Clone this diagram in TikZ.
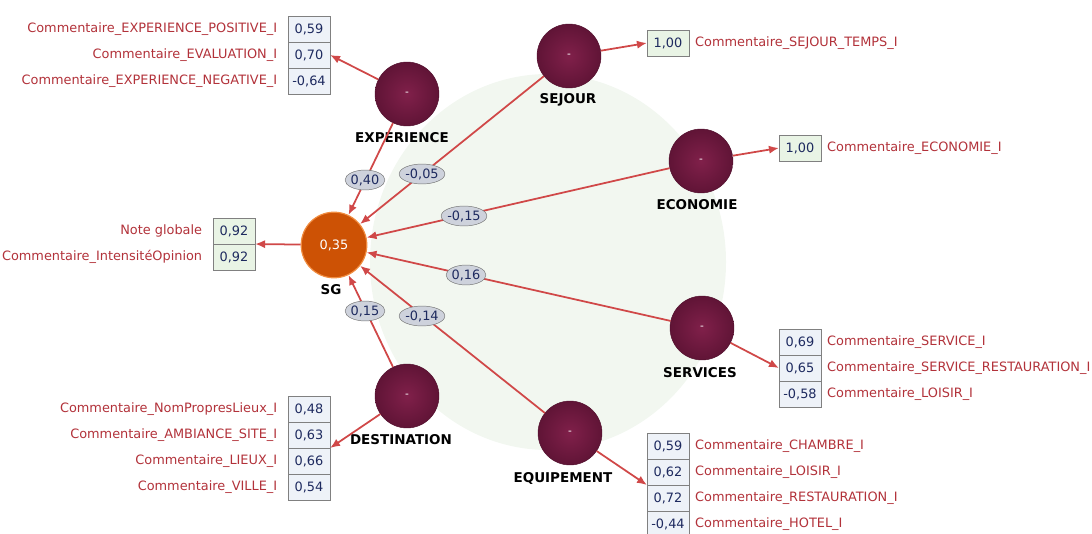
\documentclass[tikz,border=0pt]{standalone}
\usepackage{fontspec}
\setmainfont{DejaVu Sans}
\usetikzlibrary{positioning,arrows.meta,shapes.geometric}

\definecolor{pathred}{RGB}{208,72,72}
\definecolor{labred}{RGB}{178,50,58}
\definecolor{valblue}{RGB}{30,42,95}
\definecolor{lvin}{RGB}{128,32,74}
\definecolor{lvout}{RGB}{96,20,54}
\definecolor{sgorange}{RGB}{205,82,5}
\definecolor{sgrim}{RGB}{240,140,64}
\definecolor{boxblue}{RGB}{238,242,248}
\definecolor{boxgreen}{RGB}{233,244,229}
\definecolor{coefgray}{RGB}{206,210,220}
\definecolor{blobgreen}{RGB}{242,247,240}

\begin{document}
\begin{tikzpicture}[x=0.03cm,y=-0.03cm,>={Latex[length=8.5pt,width=7pt]},
  lv/.style={circle,minimum size=54.6pt,inner sep=0pt,inner color=lvin,outer color=lvout,
    draw=lvout!85!black,thin,text=white,font=\small},
  sgnode/.style={circle,minimum size=56pt,inner sep=0pt,fill=sgorange,draw=sgrim,
    line width=1pt,text=white,font=\fontsize{11}{13}\selectfont},
  lvname/.style={font=\bfseries\fontsize{11.5}{13}\selectfont},
  ind/.style={draw=gray,fill=boxblue,minimum width=36pt,minimum height=22.2pt,
    inner sep=0pt,outer sep=0pt,text=valblue,font=\fontsize{11}{13}\selectfont},
  indg/.style={ind,fill=boxgreen},
  ilab/.style={text=labred,inner sep=1pt,font=\fontsize{11}{13}\selectfont},
  regarrow/.style={->,draw=pathred,line width=1.5pt},
  pcoef/.style={ellipse,draw=gray!90!black,fill=coefgray,text=valblue,inner xsep=-10pt,
    inner ysep=0pt,minimum width=34pt,minimum height=17pt,font=\fontsize{11}{13}\selectfont},
  negcoef/.style={pcoef,minimum width=39pt}]
  \useasboundingbox (0,0) rectangle (1092,534);

  % pale background blob
  \fill[blobgreen] (548,262) ellipse [x radius=5.34cm,y radius=5.64cm];

  % latent variables
  \node[sgnode] (sg) at (334,245) {0,35};
  \node[lvname] (sgname) at (331,290) {SG};
  \node[lv] (exp) at (407,94) {-};
  \node[lvname] (expname) at (402,138) {EXPERIENCE};
  \node[lv] (sej) at (569,56) {-};
  \node[lvname] (sejname) at (568,100) {SEJOUR};
  \node[lv] (eco) at (701,161) {-};
  \node[lvname] (econame) at (697,205) {ECONOMIE};
  \node[lv] (srv) at (702,328) {-};
  \node[lvname] (srvname) at (700,373) {SERVICES};
  \node[lv] (dst) at (407,396) {-};
  \node[lvname] (dstname) at (401,440) {DESTINATION};
  \node[lv] (eqp) at (570,433) {-};
  \node[lvname] (eqpname) at (563,478) {EQUIPEMENT};

  % indicators of SG
  \node[indg] (sg1) at (234,231) {0,92};
  \node[indg,below=0pt of sg1] (sg2) {0,92};
  \node[ilab,left=8pt of sg1] (lsg1) {Note globale};
  \node[ilab,left=8pt of sg2] (lsg2) {Commentaire\_IntensitéOpinion};

  % indicators of EXPERIENCE
  \node[ind] (exp1) at (309,29) {0,59};
  \node[ind,below=0pt of exp1] (exp2) {0,70};
  \node[ind,below=0pt of exp2] (exp3) {-0,64};
  \node[ilab,left=8pt of exp1] (lexp1) {Commentaire\_EXPERIENCE\_POSITIVE\_I};
  \node[ilab,left=8pt of exp2] (lexp2) {Commentaire\_EVALUATION\_I};
  \node[ilab,left=8pt of exp3] (lexp3) {Commentaire\_EXPERIENCE\_NEGATIVE\_I};

  % indicators of DESTINATION
  \node[ind] (dst1) at (309,409) {0,48};
  \node[ind,below=0pt of dst1] (dst2) {0,63};
  \node[ind,below=0pt of dst2] (dst3) {0,66};
  \node[ind,below=0pt of dst3] (dst4) {0,54};
  \node[ilab,left=8pt of dst1] (ldst1) {Commentaire\_NomPropresLieux\_I};
  \node[ilab,left=8pt of dst2] (ldst2) {Commentaire\_AMBIANCE\_SITE\_I};
  \node[ilab,left=8pt of dst3] (ldst3) {Commentaire\_LIEUX\_I};
  \node[ilab,left=8pt of dst4] (ldst4) {Commentaire\_VILLE\_I};

  % indicators of SEJOUR and ECONOMIE
  \node[indg] (sej1) at (668,43) {1,00};
  \node[ilab,right=4pt of sej1] (lsej1) {Commentaire\_SEJOUR\_TEMPS\_I};
  \node[indg] (eco1) at (800,148) {1,00};
  \node[ilab,right=4pt of eco1] (leco1) {Commentaire\_ECONOMIE\_I};

  % indicators of SERVICES
  \node[ind] (srv1) at (800,342) {0,69};
  \node[ind,below=0pt of srv1] (srv2) {0,65};
  \node[ind,below=0pt of srv2] (srv3) {-0,58};
  \node[ilab,right=4pt of srv1] (lsrv1) {Commentaire\_SERVICE\_I};
  \node[ilab,right=4pt of srv2] (lsrv2) {Commentaire\_SERVICE\_RESTAURATION\_I};
  \node[ilab,right=4pt of srv3] (lsrv3) {Commentaire\_LOISIR\_I};

  % indicators of EQUIPEMENT
  \node[ind] (eqp1) at (668,446) {0,59};
  \node[ind,below=0pt of eqp1] (eqp2) {0,62};
  \node[ind,below=0pt of eqp2] (eqp3) {0,72};
  \node[ind,below=0pt of eqp3] (eqp4) {-0,44};
  \node[ilab,right=4pt of eqp1] (leqp1) {Commentaire\_CHAMBRE\_I};
  \node[ilab,right=4pt of eqp2] (leqp2) {Commentaire\_LOISIR\_I};
  \node[ilab,right=4pt of eqp3] (leqp3) {Commentaire\_RESTAURATION\_I};
  \node[ilab,right=4pt of eqp4] (leqp4) {Commentaire\_HOTEL\_I};

  % outer loadings
  \draw[regarrow] (sg) -- (sg1.south east);
  \draw[regarrow] (exp) -- (exp2.east);
  \draw[regarrow] (dst) -- (dst2.south east);
  \draw[regarrow] (sej) -- (sej1.west);
  \draw[regarrow] (eco) -- (eco1.west);
  \draw[regarrow] (srv) -- (srv2.west);
  \draw[regarrow] (eqp) -- (eqp2.south west);

  % structural paths into SG
  \draw[regarrow] (exp) -- (sg);
  \draw[regarrow] (sej) -- (sg);
  \draw[regarrow] (eco) -- (sg);
  \draw[regarrow] (srv) -- (sg);
  \draw[regarrow] (dst) -- (sg);
  \draw[regarrow] (eqp) -- (sg);

  % path coefficients
  \node[pcoef] (cexp) at (365,180) {0,40};
  \node[negcoef] (csej) at (422,174) {-0,05};
  \node[negcoef] (ceco) at (464,216) {-0,15};
  \node[pcoef] (csrv) at (466,275) {0,16};
  \node[pcoef] (cdst) at (365,311) {0,15};
  \node[negcoef] (ceqp) at (422,316) {-0,14};
\end{tikzpicture}
\end{document}
